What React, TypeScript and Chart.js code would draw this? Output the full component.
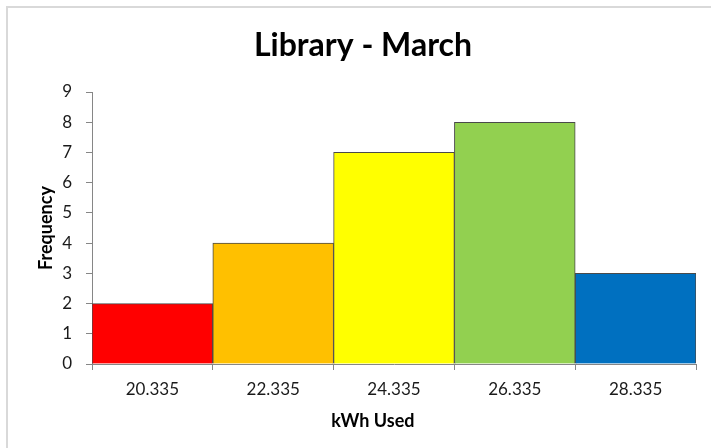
import React, { useEffect, useRef } from 'react';
import { Chart, registerables } from 'chart.js';

Chart.register(...registerables);

const categories = ['20.335', '22.335', '24.335', '26.335', '28.335'];
const frequencies = [2, 4, 7, 8, 3];
const barColors = ['#FF0000', '#FFC000', '#FFFF00', '#92D050', '#0070C0'];
const yMin = 0;
const yMax = 9;
const yStep = 1;
const chartTitle = 'Library - March';
const xAxisTitle = 'kWh Used';
const yAxisTitle = 'Frequency';

const FONT = 'Lato, "Open Sans", sans-serif';

const xTitlePlugin = {
  id: 'xTitlePlugin',
  afterDraw(chart: any) {
    const { ctx, chartArea } = chart;
    ctx.save();
    ctx.font = `bold 18px ${FONT}`;
    ctx.fillStyle = '#000000';
    ctx.textAlign = 'center';
    ctx.textBaseline = 'middle';
    ctx.fillText(xAxisTitle, chartArea.left + chartArea.width * 0.465, chartArea.bottom + 57);
    ctx.restore();
  },
};

export default function App() {
  const canvasRef = useRef<HTMLCanvasElement | null>(null);

  useEffect(() => {
    if (!canvasRef.current) return;
    const chart = new Chart(canvasRef.current, {
      type: 'bar',
      data: {
        labels: categories,
        datasets: [
          {
            data: frequencies,
            backgroundColor: barColors,
            borderColor: '#4a4a4a',
            borderWidth: 1,
            barPercentage: 1,
            categoryPercentage: 1,
          },
        ],
      },
      options: {
        responsive: false,
        animation: false,
        layout: { padding: { left: 30, right: 15, top: 0, bottom: 0 } },
        plugins: {
          legend: { display: false },
          tooltip: { enabled: false },
          title: {
            display: true,
            text: chartTitle,
            color: '#000000',
            font: { family: FONT, size: 32, weight: 'bold' },
            padding: { top: 26, bottom: 27.6 },
          },
        },
        scales: {
          x: {
            grid: {
              display: true,
              drawOnChartArea: false,
              drawTicks: true,
              tickLength: 6,
              color: '#868686',
              offset: true,
            },
            border: { display: true, color: '#868686', width: 1 },
            ticks: {
              color: '#1a1a1a',
              font: { family: FONT, size: 17 },
              padding: 9,
              maxRotation: 0,
            },
            afterFit(scale: any) {
              scale.height = 84;
            },
          },
          y: {
            min: yMin,
            max: yMax,
            grid: {
              display: true,
              drawOnChartArea: false,
              drawTicks: true,
              tickLength: 6,
              color: '#868686',
            },
            border: { display: true, color: '#868686', width: 1 },
            ticks: {
              stepSize: yStep,
              color: '#1a1a1a',
              font: { family: FONT, size: 17 },
              padding: 14,
            },
            title: {
              display: true,
              text: yAxisTitle,
              color: '#000000',
              font: { family: FONT, size: 18, weight: 'bold' },
              padding: { top: 5, bottom: 0 },
            },
            afterFit(scale: any) {
              scale.width = 62;
            },
          },
        },
      },
      plugins: [xTitlePlugin],
    });
    return () => chart.destroy();
  }, []);

  return (
    <div
      style={{
        position: 'fixed',
        left: 0,
        top: 0,
        width: 711,
        height: 448,
        background: '#ffffff',
        overflow: 'hidden',
      }}
    >
      <div
        style={{
          position: 'absolute',
          left: 6,
          top: 6,
          width: 800,
          height: 600,
          border: '2px solid #d9d9d9',
          boxSizing: 'border-box',
        }}
      />
      <canvas
        ref={canvasRef}
        width={711}
        height={448}
        style={{ position: 'absolute', left: 0, top: 0 }}
      />
    </div>
  );
}
